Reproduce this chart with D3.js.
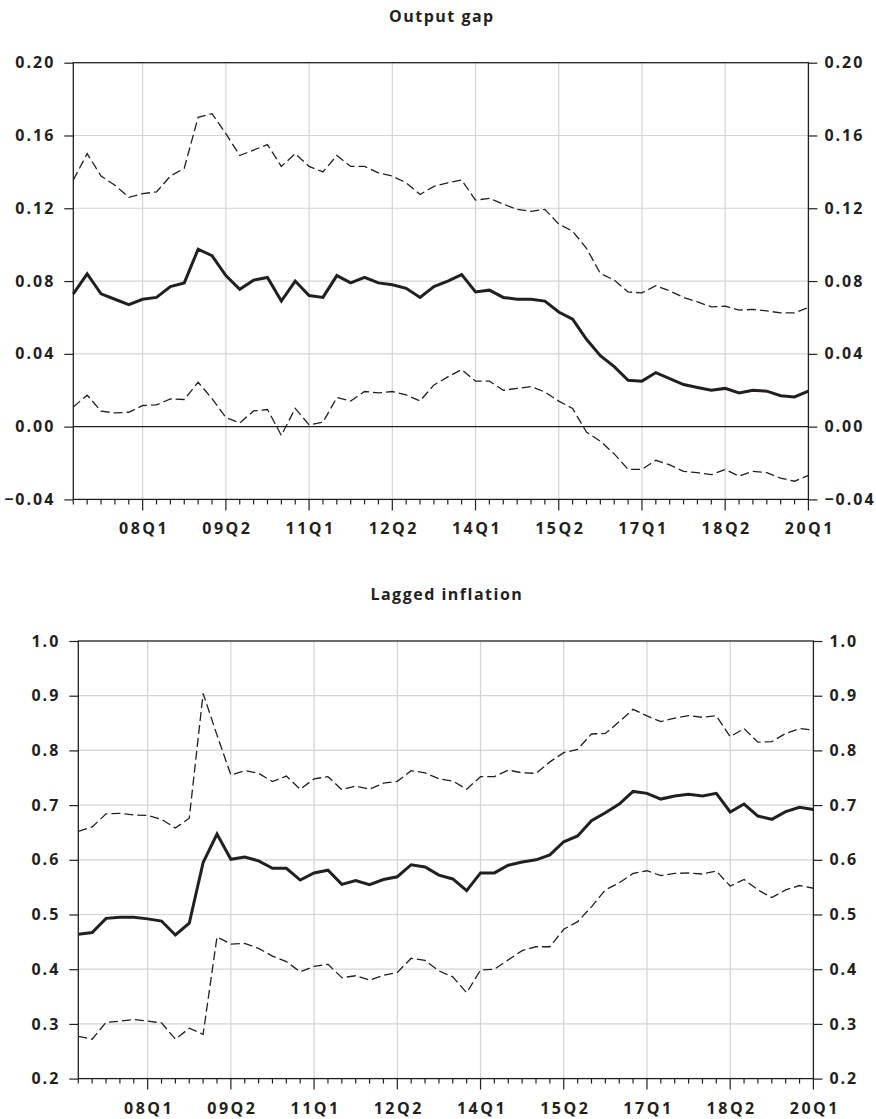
<!DOCTYPE html>
<html>
<head>
  <meta charset="utf-8" />
  <title>Output gap / Lagged inflation</title>
  <script src="https://cdnjs.cloudflare.com/ajax/libs/d3/7.8.5/d3.min.js"></script>
  <style>
    body { margin: 0; background: #fff; }
    svg text { font-family: "Open Sans", "DejaVu Sans", sans-serif; font-weight: 700; fill: #231f20; }
  </style>
</head>
<body>
<div id="chart"></div>
<script>
  // quarterly x axis, 06Q4 .. 20Q1 (54 obs), labelled every 6th quarter
  var tickIdx = [5, 11, 17, 23, 29, 35, 41, 47, 53];
  var tickLabels = ["08Q1", "09Q2", "11Q1", "12Q2", "14Q1", "15Q2", "17Q1", "18Q2", "20Q1"];

  // output gap coefficient: estimate and upper / lower band
  var gapMid = [0.073, 0.084, 0.073, 0.070, 0.067, 0.070, 0.071, 0.077, 0.079, 0.0975,
                0.094, 0.083, 0.0755, 0.0805, 0.082, 0.069, 0.080, 0.072, 0.071, 0.083,
                0.079, 0.082, 0.079, 0.078, 0.076, 0.071, 0.077, 0.080, 0.0835, 0.074,
                0.075, 0.071, 0.070, 0.070, 0.069, 0.063, 0.059, 0.048, 0.039, 0.033,
                0.0255, 0.025, 0.0297, 0.0264, 0.0231, 0.0215, 0.020, 0.021, 0.0185, 0.020,
                0.0195, 0.017, 0.0163, 0.0195];
  var gapUp = [0.1355, 0.150, 0.1377, 0.1327, 0.126, 0.128, 0.129, 0.1377, 0.142, 0.170,
               0.172, 0.161, 0.149, 0.152, 0.155, 0.143, 0.150, 0.143, 0.140, 0.149,
               0.143, 0.143, 0.1395, 0.1377, 0.134, 0.1276, 0.132, 0.134, 0.1355, 0.1245,
               0.1254, 0.1223, 0.1194, 0.1183, 0.1194, 0.1113, 0.1074, 0.098, 0.0842, 0.0805,
               0.074, 0.0735, 0.0774, 0.0746, 0.071, 0.0686, 0.0658, 0.0662, 0.064, 0.0644,
               0.0636, 0.0625, 0.0625, 0.0655];
  var gapLo = [0.0108, 0.0173, 0.0085, 0.0075, 0.0079, 0.0116, 0.0119, 0.0152, 0.0149, 0.0244,
               0.0154, 0.005, 0.002, 0.0086, 0.0094, -0.0048, 0.010, 0.001, 0.0024, 0.016,
               0.0141, 0.0193, 0.0185, 0.0193, 0.0174, 0.0141, 0.0229, 0.0273, 0.0314, 0.025,
               0.025, 0.020, 0.021, 0.022, 0.019, 0.014, 0.010, -0.003, -0.008, -0.015,
               -0.0235, -0.0235, -0.0185, -0.021, -0.0246, -0.0253, -0.0264, -0.0236, -0.0272, -0.0246,
               -0.0253, -0.0283, -0.030, -0.0268];
  var gapTicks = [-0.04, 0.00, 0.04, 0.08, 0.12, 0.16, 0.20];

  // lagged inflation coefficient
  var infMid = [0.464, 0.467, 0.493, 0.495, 0.495, 0.492, 0.488, 0.4625, 0.484, 0.595,
                0.647, 0.601, 0.605, 0.598, 0.5845, 0.5845, 0.563, 0.576, 0.581, 0.555,
                0.562, 0.5545, 0.564, 0.569, 0.591, 0.587, 0.572, 0.565, 0.5435, 0.576,
                0.576, 0.590, 0.596, 0.600, 0.609, 0.633, 0.6435, 0.6715, 0.686, 0.702,
                0.725, 0.7215, 0.711, 0.7166, 0.720, 0.7166, 0.7215, 0.6874, 0.702, 0.680,
                0.674, 0.688, 0.696, 0.692];
  var infUp = [0.652, 0.660, 0.684, 0.685, 0.682, 0.681, 0.674, 0.658, 0.676, 0.904,
               0.828, 0.755, 0.763, 0.758, 0.743, 0.753, 0.729, 0.748, 0.752, 0.728,
               0.735, 0.729, 0.740, 0.7435, 0.763, 0.759, 0.748, 0.744, 0.729, 0.752,
               0.752, 0.764, 0.759, 0.758, 0.779, 0.796, 0.802, 0.830, 0.831, 0.8525,
               0.875, 0.863, 0.8525, 0.859, 0.8635, 0.8605, 0.8635, 0.825, 0.840, 0.815,
               0.816, 0.831, 0.840, 0.837];
  var infLo = [0.277, 0.272, 0.303, 0.305, 0.308, 0.305, 0.302, 0.272, 0.292, 0.281,
               0.459, 0.446, 0.447, 0.438, 0.424, 0.414, 0.395, 0.405, 0.409, 0.3845,
               0.388, 0.380, 0.389, 0.394, 0.420, 0.416, 0.397, 0.386, 0.357, 0.3985,
               0.400, 0.417, 0.434, 0.441, 0.441, 0.473, 0.487, 0.514, 0.545, 0.558,
               0.575, 0.580, 0.571, 0.575, 0.576, 0.574, 0.5795, 0.552, 0.564, 0.545,
               0.531, 0.545, 0.553, 0.548];
  var infTicks = [0.2, 0.3, 0.4, 0.5, 0.6, 0.7, 0.8, 0.9, 1.0];

  var width = 876, height = 1119;

  var svg = d3.select("#chart")
    .append("svg")
    .attr("width", width)
    .attr("height", height);

  function drawPanel(p) {
    var n = p.mid.length;
    var x = d3.scaleLinear().domain([0, n - 1]).range([p.left, p.right]);
    var y = d3.scaleLinear().domain(p.domain).range([p.bottom, p.top]);
    var g = svg.append("g");

    // title
    g.append("text")
      .attr("x", (p.left + p.right) / 2 + 1)
      .attr("y", p.top - 41)
      .attr("text-anchor", "middle")
      .style("font-size", "16px")
      .style("letter-spacing", "1.5px")
      .text(p.title);

    // grid
    g.append("g").selectAll("line.h")
      .data(p.ticks.filter(function(t) { return t !== p.domain[0] && t !== p.domain[1] && t !== 0; }))
      .enter().append("line")
      .attr("x1", p.left).attr("x2", p.right)
      .attr("y1", function(d) { return y(d); })
      .attr("y2", function(d) { return y(d); })
      .attr("stroke", "#d4d4d4").attr("stroke-width", 1.2);

    g.append("g").selectAll("line.v")
      .data(tickIdx.filter(function(i) { return i < n - 1; }))
      .enter().append("line")
      .attr("x1", function(d) { return x(d); })
      .attr("x2", function(d) { return x(d); })
      .attr("y1", p.top).attr("y2", p.bottom)
      .attr("stroke", "#d4d4d4").attr("stroke-width", 1.2);

    // zero line
    if (p.domain[0] < 0) {
      g.append("line")
        .attr("x1", p.left).attr("x2", p.right)
        .attr("y1", y(0)).attr("y2", y(0))
        .attr("stroke", "#231f20").attr("stroke-width", 1.4);
    }

    // frame
    g.append("rect")
      .attr("x", p.left).attr("y", p.top)
      .attr("width", p.right - p.left).attr("height", p.bottom - p.top)
      .attr("fill", "none").attr("stroke", "#231f20").attr("stroke-width", 1.3);

    // y axes left and right
    var yl = d3.axisLeft(y).tickValues(p.ticks).tickSize(9).tickPadding(9)
      .tickFormat(d3.format(p.fmt));
    var yr = d3.axisRight(y).tickValues(p.ticks).tickSize(9).tickPadding(7)
      .tickFormat(d3.format(p.fmt));
    [[yl, p.left], [yr, p.right]].forEach(function(a) {
      var ax = g.append("g").attr("transform", "translate(" + a[1] + ",0)").call(a[0]);
      ax.select(".domain").remove();
      ax.selectAll("line").attr("stroke", "#231f20").attr("stroke-width", 1.2);
      ax.selectAll("text")
        .style("font-size", "16px")
        .style("letter-spacing", "2px")
        .attr("fill", "#231f20");
      ax.attr("font-family", null).attr("font-size", null);
    });

    // x axis: minor tick every quarter, major at labels
    var xa = g.append("g");
    xa.selectAll("line.minor")
      .data(d3.range(n))
      .enter().append("line")
      .attr("x1", function(d) { return x(d); })
      .attr("x2", function(d) { return x(d); })
      .attr("y1", p.bottom)
      .attr("y2", function(d) { return p.bottom + (tickIdx.indexOf(d) >= 0 ? 11 : 5); })
      .attr("stroke", "#231f20").attr("stroke-width", 1.2);

    xa.selectAll("text")
      .data(tickIdx)
      .enter().append("text")
      .attr("x", function(d) { return x(d) + 1.5; })
      .attr("y", p.bottom + 35)
      .attr("text-anchor", "middle")
      .style("font-size", "16px")
      .style("letter-spacing", "2.5px")
      .text(function(d, i) { return tickLabels[i]; });

    // bands and estimate
    var line = d3.line()
      .x(function(d, i) { return x(i); })
      .y(function(d) { return y(d); });

    [p.up, p.lo].forEach(function(s) {
      g.append("path")
        .datum(s)
        .attr("d", line)
        .attr("fill", "none")
        .attr("stroke", "#231f20")
        .attr("stroke-width", 1.3)
        .attr("stroke-dasharray", "9,4");
    });

    g.append("path")
      .datum(p.mid)
      .attr("d", line)
      .attr("fill", "none")
      .attr("stroke", "#231f20")
      .attr("stroke-width", 3)
      .attr("stroke-linejoin", "miter");
  }

  drawPanel({
    title: "Output gap",
    mid: gapMid, up: gapUp, lo: gapLo,
    domain: [-0.04, 0.20], ticks: gapTicks, fmt: ".2f",
    left: 73.3, right: 808.4, top: 62.7, bottom: 499.4
  });

  drawPanel({
    title: "Lagged inflation",
    mid: infMid, up: infUp, lo: infLo,
    domain: [0.2, 1.0], ticks: infTicks, fmt: ".1f",
    left: 78.3, right: 813.4, top: 641, bottom: 1078.6
  });
</script>
</body>
</html>
